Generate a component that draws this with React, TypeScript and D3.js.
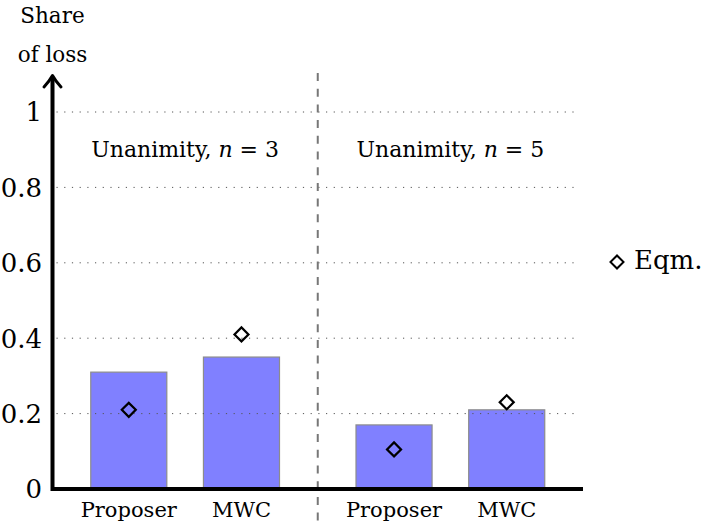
import { useEffect, useRef } from "react";
import * as d3 from "d3";

const FONT = "'DejaVu Serif', serif";

const panelN = [3, 5];
const categories = ["Proposer", "MWC"];
const shareByPanel = [
  [0.31, 0.35],
  [0.17, 0.21],
];
const eqmByPanel = [
  [0.21, 0.41],
  [0.105, 0.23],
];
const yTicks = [0, 0.2, 0.4, 0.6, 0.8, 1];
const yTickLabels = ["0", "0.2", "0.4", "0.6", "0.8", "1"];

const WIDTH = 705;
const HEIGHT = 526;
const AXIS_X0 = 52.5;
const AXIS_X1 = 583;
const Y0 = 489;
const Y1 = 112;

export default function App() {
  const svgRef = useRef<SVGSVGElement>(null);

  useEffect(() => {
    const svg = svgRef.current;
    if (!svg) return;
    const root = d3.select(svg);
    root.selectAll("*").remove();

    const yScale = d3.scaleLinear().domain([0, 1]).range([Y0, Y1]);
    const panelScale = d3
      .scaleBand<number>()
      .domain(panelN)
      .range([AXIS_X0, AXIS_X1])
      .paddingInner(0)
      .paddingOuter(0);
    const catScale = d3
      .scalePoint<string>()
      .domain(categories)
      .range([0, panelScale.bandwidth()])
      .padding(0.677);
    const barW = catScale.step() * 0.675;

    // bars
    panelN.forEach((n, pi) => {
      const px = panelScale(n)!;
      categories.forEach((c, ci) => {
        const v = shareByPanel[pi][ci];
        root
          .append("rect")
          .attr("x", px + catScale(c)! - barW / 2)
          .attr("y", yScale(v))
          .attr("width", barW)
          .attr("height", yScale(0) - yScale(v))
          .attr("fill", "#8080ff")
          .attr("stroke", "#8c8c8c")
          .attr("stroke-width", 1.2);
      });
    });

    // dotted grid
    for (const t of yTicks.slice(1)) {
      root
        .append("line")
        .attr("x1", AXIS_X0 + 4)
        .attr("x2", 578)
        .attr("y1", yScale(t))
        .attr("y2", yScale(t))
        .attr("stroke", "#555")
        .attr("stroke-width", 1)
        .attr("stroke-dasharray", "1.2 6.5");
    }

    // dashed panel separator
    const sepX = panelScale(panelN[1])!;
    root
      .append("line")
      .attr("x1", sepX)
      .attr("x2", sepX)
      .attr("y1", 73)
      .attr("y2", HEIGHT)
      .attr("stroke", "#777")
      .attr("stroke-width", 2)
      .attr("stroke-dasharray", "8 7.7");

    // y tick labels
    yTicks.forEach((t, i) => {
      root
        .append("text")
        .attr("x", 42)
        .attr("y", yScale(t))
        .attr("dy", "0.36em")
        .attr("text-anchor", "end")
        .attr("font-family", FONT)
        .attr("font-size", 26)
        .attr("fill", "#000")
        .text(yTickLabels[i]);
    });

    // axes
    root
      .append("line")
      .attr("x1", AXIS_X0)
      .attr("x2", AXIS_X1)
      .attr("y1", Y0)
      .attr("y2", Y0)
      .attr("stroke", "#000")
      .attr("stroke-width", 4);
    root
      .append("line")
      .attr("x1", AXIS_X0)
      .attr("x2", AXIS_X0)
      .attr("y1", Y0 + 2)
      .attr("y2", 77)
      .attr("stroke", "#000")
      .attr("stroke-width", 4);
    root
      .append("path")
      .attr("d", `M${AXIS_X0 - 8.5},87 Q${AXIS_X0 - 3},81 ${AXIS_X0},75.5 Q${AXIS_X0 + 3},81 ${AXIS_X0 + 8.5},87`)
      .attr("fill", "none")
      .attr("stroke", "#000")
      .attr("stroke-width", 3)
      .attr("stroke-linecap", "round")
      .attr("stroke-linejoin", "round");

    // y axis title
    ["Share", "of loss"].forEach((s, i) => {
      root
        .append("text")
        .attr("x", AXIS_X0)
        .attr("y", 23 + i * 39)
        .attr("text-anchor", "middle")
        .attr("font-family", FONT)
        .attr("font-size", 21.5)
        .attr("fill", "#000")
        .text(s);
    });

    const diamond = d3.symbol(d3.symbolSquare, 98);

    panelN.forEach((n, pi) => {
      const px = panelScale(n)!;
      // panel title
      const title = root
        .append("text")
        .attr("x", px + panelScale.bandwidth() / 2)
        .attr("y", 157)
        .attr("text-anchor", "middle")
        .attr("font-family", FONT)
        .attr("font-size", 22)
        .attr("fill", "#000");
      title.append("tspan").text("Unanimity, ");
      title.append("tspan").attr("font-style", "italic").text("n");
      title.append("tspan").text(` = ${n}`);

      categories.forEach((c, ci) => {
        const cx = px + catScale(c)!;
        root
          .append("text")
          .attr("x", cx)
          .attr("y", 517)
          .attr("text-anchor", "middle")
          .attr("font-family", FONT)
          .attr("font-size", 21)
          .attr("fill", "#000")
          .text(c);
        root
          .append("path")
          .attr("d", diamond()!)
          .attr("transform", `translate(${cx},${yScale(eqmByPanel[pi][ci])}) rotate(45)`)
          .attr("fill", "none")
          .attr("stroke", "#000")
          .attr("stroke-width", 2.2);
      });
    });

    // legend
    root
      .append("path")
      .attr("d", d3.symbol(d3.symbolSquare, 85)()!)
      .attr("transform", `translate(617,262) rotate(45)`)
      .attr("fill", "none")
      .attr("stroke", "#000")
      .attr("stroke-width", 2);
    root
      .append("text")
      .attr("x", 634)
      .attr("y", 269)
      .attr("font-family", FONT)
      .attr("font-size", 26)
      .attr("fill", "#000")
      .text("Eqm.");
  }, []);

  return (
    <svg
      ref={svgRef}
      width={WIDTH}
      height={HEIGHT}
      style={{ position: "absolute", left: 0, top: 0, background: "#fff" }}
    />
  );
}
